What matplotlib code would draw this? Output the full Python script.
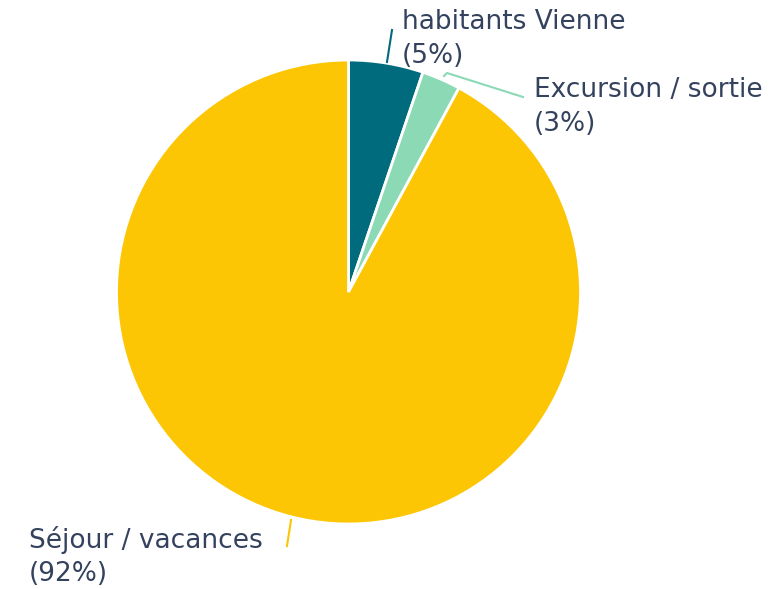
import matplotlib.pyplot as plt

# parts du public (lecture sur le graphique)
categories = ["habitants Vienne", "Excursion / sortie", "Séjour / vacances"]
valeurs = [5.2, 2.7, 92.1]
etiquettes = ["(5%)", "(3%)", "(92%)"]
couleurs = ["#006B7C", "#8CD9B6", "#FCC604"]

W, H = 778, 589
fig = plt.figure(figsize=(W / 100, H / 100), dpi=100)
ax = fig.add_axes([0, 0, 1, 1])

cx, cy, r = 348.5, H - 292, 232
ax.pie(valeurs, colors=couleurs, startangle=90, counterclock=False,
       radius=r, center=(cx, cy), frame=True,
       wedgeprops=dict(edgecolor="white", linewidth=2))
ax.set_xlim(0, W)
ax.set_ylim(0, H)
ax.set_aspect("equal")
ax.axis("off")

txt = "#34425E"
fs = 19

# lignes de rappel
ax.plot([387, 392], [H - 62, H - 30], color=couleurs[0], lw=1.5)
ax.plot([444, 447, 523], [H - 76, H - 73, H - 97], color=couleurs[1], lw=1.5)
ax.plot([291, 287], [H - 520, H - 546], color=couleurs[2], lw=1.5)

pos = [(402, 22), (534, 90), (29, 540)]
for (x, y), c, e in zip(pos, categories, etiquettes):
    ax.text(x, H - y, c, fontsize=fs, color=txt, va="center", ha="left")
    ax.text(x, H - y - 34, e, fontsize=fs, color=txt, va="center", ha="left")

fig.savefig("out.png", dpi=100)
